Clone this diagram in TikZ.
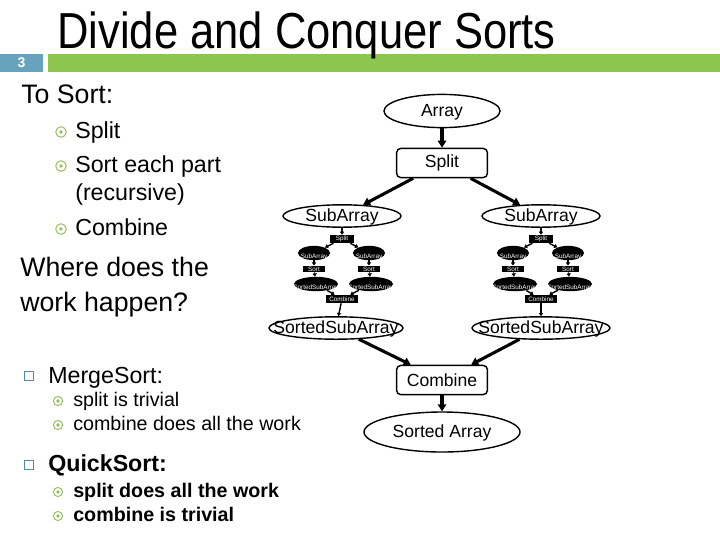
\documentclass[tikz,border=0pt]{standalone}
\usepackage{fontspec}
\setmainfont{Liberation Sans}
\usepackage{xcolor}
\usetikzlibrary{positioning, arrows.meta, shapes.geometric, calc}

\definecolor{slideblue}{RGB}{104,163,189}
\definecolor{slidegreen}{RGB}{141,198,78}
\definecolor{ringgreen}{RGB}{150,190,90}
\definecolor{boxteal}{RGB}{80,140,160}

\newcommand{\ovl}[1]{\makebox[0pt]{#1}}

\begin{document}
\begin{tikzpicture}[
    x=0.025cm, y=-0.025cm,
    txt/.style={anchor=base west, inner sep=0pt, font=\fontsize{16.5}{19}\selectfont},
    headtxt/.style={txt, font=\fontsize{19}{22}\selectfont},
    subtxt/.style={txt, font=\fontsize{14}{16}\selectfont},
    ringbullet/.style={
        circle, draw=ringgreen, line width=0.7pt, minimum size=7.5pt, inner sep=0pt,
        path picture={\fill[ringgreen] (path picture bounding box.center) circle (1.3pt);}
    },
    smallring/.style={ringbullet, minimum size=6.5pt},
    sqbullet/.style={rectangle, draw=boxteal, line width=0.8pt, minimum size=6.5pt, inner sep=0pt},
    oval/.style={
        ellipse, draw, line width=1pt, inner sep=0pt,
        text height=0.72em, text depth=0pt, font=\fontsize{12.5}{14}\selectfont
    },
    procbox/.style={
        rectangle, rounded corners=3pt, draw, line width=1pt,
        minimum width=2.27cm, minimum height=0.73cm, font=\fontsize{12.5}{14}\selectfont
    },
    flow/.style={-{Triangle[length=5pt,width=6pt]}, line width=2.2pt},
    tinyoval/.style={
        ellipse, fill=black, text=white, inner sep=0pt,
        text height=0.72em, text depth=0pt, font=\fontsize{4.5}{5}\selectfont
    },
    tinybox/.style={rectangle, fill=black, text=white, inner sep=0.6pt, font=\fontsize{4.5}{5}\selectfont},
    tinyflow/.style={-{Triangle[length=2.2pt,width=3pt]}, line width=1pt},
]
\useasboundingbox (0,0) rectangle (720,540);

% ---- Header ----
\node[fill=slideblue, text=white, minimum width=1.08cm, minimum height=0.45cm, inner sep=0pt,
      font=\fontsize{10}{11}\selectfont\bfseries] (pagenum) at (21.5,63) {3};
\node[fill=slidegreen, anchor=west, minimum width=16.8cm, minimum height=0.45cm, inner sep=0pt] (titlebar) at (48,63) {};
\node[anchor=base west, inner sep=0pt, font=\fontsize{36}{40}\selectfont] (title) at (57,48)
    {\scalebox{0.86}[1]{Divide and Conquer Sorts}};

% ---- To Sort list ----
\node[headtxt] (tosort) at (21,103) {To Sort:};
\foreach \nm/\yy/\lab in {split/138/Split, sort/172/Sort each part, comb/235/Combine} {
    \node[txt] (item\nm) at (75,\yy) {\lab};
    \node[ringbullet] (dot\nm) at (61,{\yy-6}) {};
}
\node[txt] (itemrec) at (75,200) {(recursive)};

\node[headtxt] (where1) at (20,276) {Where does the};
\node[headtxt] (where2) at (20,311) {work happen?};

% ---- MergeSort / QuickSort ----
\node[sqbullet] (sqmerge) at (29,376) {};
\node[txt] (merge) at (48,383) {MergeSort:};
\node[subtxt] (m1) at (73,406) {split is trivial};
\node[subtxt] (m2) at (73,430) {combine does all the work};

\node[sqbullet] (sqquick) at (29,465) {};
\node[txt, font=\fontsize{16.5}{19}\selectfont\bfseries] (quick) at (48,471) {QuickSort:};
\node[subtxt, font=\fontsize{14}{16}\selectfont\bfseries] (q1) at (73,497) {split does all the work};
\node[subtxt, font=\fontsize{14}{16}\selectfont\bfseries] (q2) at (73,521) {combine is trivial};

\foreach \nm/\yy in {m1/406, m2/430, q1/497, q2/521} {
    \node[smallring] (dot\nm) at (58,{\yy-5}) {};
}

% ---- Top of the tree ----
\node[oval, minimum width=2.9cm, minimum height=0.83cm] (array) at (442,111) {\ovl{Array}};
\node[procbox] (split) at (442,163) {Split};
\node[oval, minimum width=2.95cm, minimum height=0.56cm] (subL) at (342,216) {\ovl{SubArray}};
\node[oval, minimum width=2.95cm, minimum height=0.56cm] (subR) at (541,216) {\ovl{SubArray}};

\draw[flow] (array) -- (split);
\draw[flow] (split) -- (subL);
\draw[flow] (split) -- (subR);

% ---- Recursive sub-trees (small copies) ----
\foreach \s/\cx in {L/342, R/541} {
    \node[tinybox, minimum width=0.62cm, minimum height=0.2cm] (tsplit\s) at (\cx,239) {Split};
    \node[tinyoval, minimum width=0.8cm, minimum height=0.19cm] (tsubA\s) at ({\cx-28},253) {\ovl{SubArray}};
    \node[tinyoval, minimum width=0.8cm, minimum height=0.19cm] (tsubB\s) at ({\cx+27},253) {\ovl{SubArray}};
    \node[tinybox, minimum width=0.55cm, minimum height=0.16cm] (tsortA\s) at ({\cx-28},269) {Sort};
    \node[tinybox, minimum width=0.55cm, minimum height=0.16cm] (tsortB\s) at ({\cx+27},269) {Sort};
    \node[tinyoval, minimum width=1.1cm, minimum height=0.2cm] (tsortedA\s) at ({\cx-26},284) {\ovl{SortedSubArray}};
    \node[tinyoval, minimum width=1.1cm, minimum height=0.2cm] (tsortedB\s) at ({\cx+29},284) {\ovl{SortedSubArray}};
    \node[tinybox, minimum width=0.78cm, minimum height=0.2cm] (tcomb\s) at (\cx,299) {Combine};

    \draw[tinyflow] (sub\s) -- (tsplit\s);
    \draw[tinyflow] (tsplit\s) -- (tsubA\s);
    \draw[tinyflow] (tsplit\s) -- (tsubB\s);
    \draw[tinyflow] (tsubA\s) -- (tsortA\s);
    \draw[tinyflow] (tsubB\s) -- (tsortB\s);
    \draw[tinyflow] (tsortA\s) -- (tsortedA\s);
    \draw[tinyflow] (tsortB\s) -- (tsortedB\s);
    \draw[tinyflow] (tsortedA\s) -- (tcomb\s);
    \draw[tinyflow] (tsortedB\s) -- (tcomb\s);
}

% ---- Bottom of the tree ----
\node[oval, minimum width=3.35cm, minimum height=0.56cm] (sortedL) at (336,328) {\ovl{SortedSubArray}};
\node[oval, minimum width=3.45cm, minimum height=0.56cm] (sortedR) at (541,328) {\ovl{SortedSubArray}};
\node[procbox] (combine) at (442,380) {Combine};
\node[oval, minimum width=3.9cm, minimum height=1cm] (result) at (442,432) {\ovl{Sorted Array}};

\draw[tinyflow] (tcombL) -- (sortedL);
\draw[tinyflow] (tcombR) -- (sortedR);
\draw[flow] (sortedL) -- (combine);
\draw[flow] (sortedR) -- (combine);
\draw[flow] (combine) -- (result);

\end{tikzpicture}
\end{document}
